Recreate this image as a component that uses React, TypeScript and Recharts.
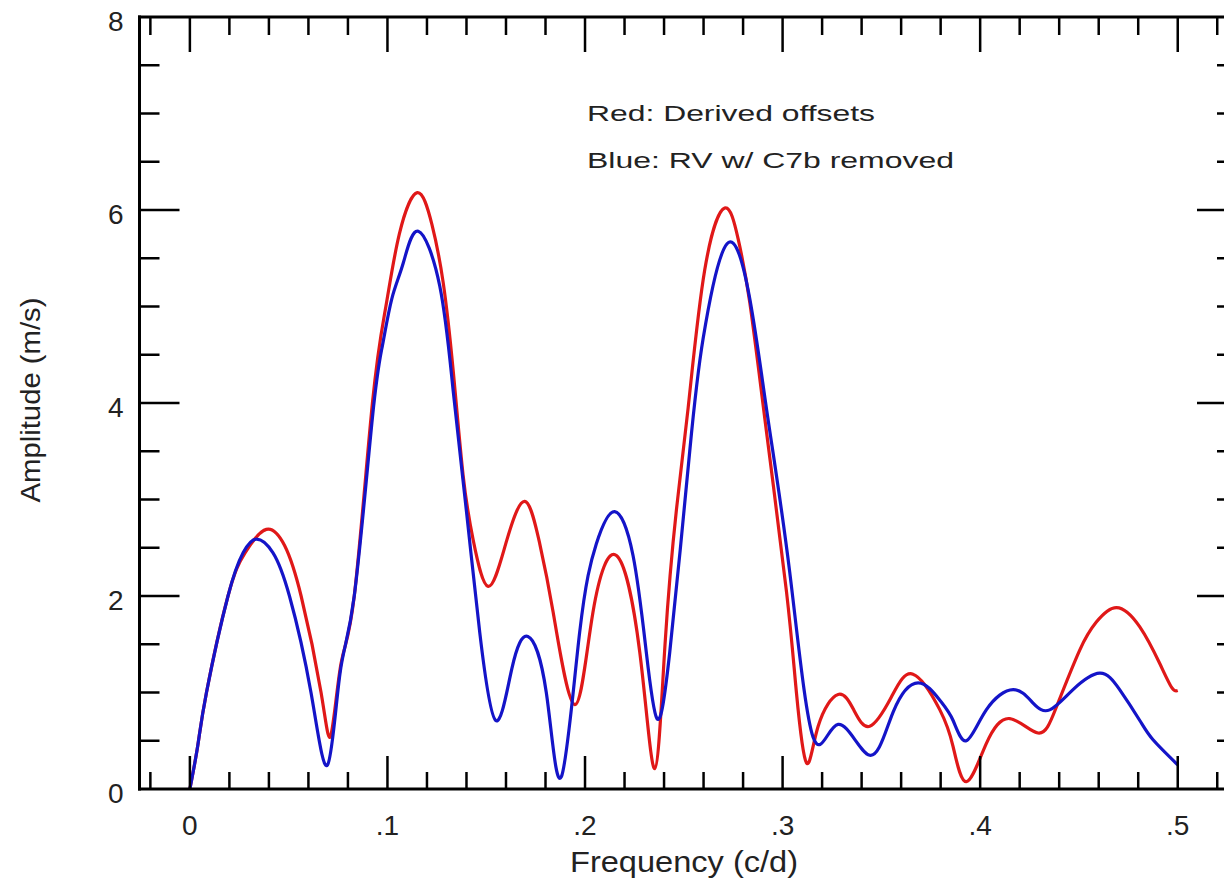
import { LineChart, Line, XAxis, YAxis } from 'recharts';

// frequency (c/d) and amplitude (m/s)
const redFreq = [0, 0.004, 0.0084, 0.0193, 0.028, 0.0387, 0.048, 0.0563, 0.0664, 0.0714, 0.0765, 0.0832, 0.0924, 0.0992, 0.106, 0.1151, 0.1225, 0.1282, 0.1333, 0.1383, 0.1434, 0.151, 0.16, 0.1695, 0.177, 0.1839, 0.1948, 0.204, 0.2159, 0.2277, 0.2353, 0.2405, 0.2463, 0.2522, 0.2606, 0.2707, 0.2775, 0.2834, 0.2918, 0.302, 0.307, 0.3121, 0.318, 0.3281, 0.336, 0.3441, 0.355, 0.366, 0.3796, 0.3863, 0.393, 0.4031, 0.415, 0.4293, 0.4386, 0.4504, 0.4588, 0.469, 0.4808, 0.4909, 0.497, 0.5];
const redAmp = [0, 0.45, 1.0, 2.0, 2.45, 2.69, 2.52, 2.0, 1.0, 0.56, 1.3, 2.0, 4.0, 5.0, 5.75, 6.18, 5.85, 5.25, 4.33, 3.25, 2.58, 2.1, 2.55, 2.98, 2.55, 1.83, 0.875, 1.83, 2.42, 1.42, 0.21, 1.5, 2.9, 3.95, 5.38, 6.02, 5.7, 5.04, 3.71, 2.04, 1.0, 0.27, 0.65, 0.98, 0.82, 0.65, 0.95, 1.19, 0.82, 0.44, 0.076, 0.47, 0.73, 0.58, 0.85, 1.44, 1.73, 1.88, 1.68, 1.3, 1.05, 1.02];

const blueFreq = [0, 0.004, 0.0084, 0.0193, 0.027, 0.0336, 0.042, 0.0504, 0.0613, 0.0697, 0.076, 0.0832, 0.0924, 0.0975, 0.1022, 0.108, 0.1156, 0.1265, 0.1333, 0.14, 0.1467, 0.1548, 0.163, 0.1711, 0.1804, 0.188, 0.1973, 0.2057, 0.215, 0.2243, 0.231, 0.2364, 0.2429, 0.253, 0.2598, 0.2719, 0.2834, 0.2925, 0.3036, 0.3154, 0.3281, 0.3441, 0.356, 0.3686, 0.3796, 0.3863, 0.393, 0.4031, 0.4167, 0.4268, 0.4352, 0.447, 0.4605, 0.4706, 0.4808, 0.4875, 0.5];
const blueAmp = [0, 0.45, 1.0, 2.0, 2.45, 2.59, 2.45, 2.0, 1.0, 0.25, 1.2, 2.0, 3.85, 4.6, 5.08, 5.45, 5.78, 5.21, 4.12, 2.875, 1.625, 0.71, 1.25, 1.58, 1.0, 0.125, 1.625, 2.54, 2.875, 2.42, 1.42, 0.73, 1.42, 3.5, 4.67, 5.65, 5.08, 3.85, 2.25, 0.54, 0.67, 0.35, 0.8, 1.1, 0.92, 0.71, 0.5, 0.82, 1.03, 0.89, 0.82, 1.03, 1.2, 1.03, 0.71, 0.51, 0.25];

const freqTicks = [-0.02, 0, 0.02, 0.04, 0.06, 0.08, 0.1, 0.12, 0.14, 0.16, 0.18, 0.2, 0.22, 0.24, 0.26, 0.28, 0.3, 0.32, 0.34, 0.36, 0.38, 0.4, 0.42, 0.44, 0.46, 0.48, 0.5, 0.52];
const ampTicks = [0.5, 1, 1.5, 2, 2.5, 3, 3.5, 4, 4.5, 5, 5.5, 6, 6.5, 7, 7.5];
const ampLabels = [0, 2, 4, 6, 8];

const redData = redFreq.map((f, i) => ({ f, a: redAmp[i] }));
const blueData = blueFreq.map((f, i) => ({ f, a: blueAmp[i] }));

const FONT = '"Liberation Sans", Arial, Helvetica, sans-serif';
const TXT = '#222';

const isMajorX = (v: number) => Math.abs(v * 10 - Math.round(v * 10)) < 1e-6;
const fmtX = (v: number) => (Math.abs(v) < 1e-9 ? '0' : '.' + Math.round(v * 10));

const BottomTick = ({ x, y, payload }: any) => {
  const major = isMajorX(payload.value);
  return (
    <g>
      <line x1={x} x2={x} y1={y} y2={y - (major ? 33 : 17)} stroke="#000" strokeWidth={2.5} />
      {major && (
        <text x={x} y={y + 46} textAnchor="middle" fontSize={28} fill={TXT} fontFamily={FONT}>
          {fmtX(payload.value)}
        </text>
      )}
    </g>
  );
};

const TopTick = ({ x, y, payload }: any) => {
  const major = isMajorX(payload.value);
  return <line x1={x} x2={x} y1={y} y2={y + (major ? 35 : 18)} stroke="#000" strokeWidth={2.5} />;
};

const LeftTick = ({ x, y, payload }: any) => {
  const v = payload.value;
  const major = ampLabels.includes(v);
  return (
    <g>
      {v > 0 && v < 8 && (
        <line x1={x} x2={x + (major ? 40 : 20)} y1={y} y2={y} stroke="#000" strokeWidth={2.5} />
      )}
      {major && (
        <text x={x - 16} y={y + 14} textAnchor="end" fontSize={28} fill={TXT} fontFamily={FONT}>
          {v}
        </text>
      )}
    </g>
  );
};

const RightTick = ({ x, y, payload }: any) => {
  const v = payload.value;
  const major = ampLabels.includes(v);
  if (v <= 0 || v >= 8) return <g />;
  return <line x1={x} x2={x - (major ? 40 : 20)} y1={y} y2={y} stroke="#000" strokeWidth={2.5} />;
};

const axisLine = { stroke: '#000', strokeWidth: 3, strokeLinecap: 'square' as const };
const allAmpTicks = [0, ...ampTicks, 8];

export default function App() {
  return (
    <div style={{ position: 'absolute', left: 0, top: 0, width: 1224, height: 886, overflow: 'hidden', background: '#fff' }}>
      <LineChart width={1270} height={886} margin={{ top: 16, right: 23, bottom: 0, left: 0 }}>
        <XAxis
          dataKey="f"
          type="number"
          domain={[-0.0255, 0.53]}
          ticks={freqTicks}
          interval={0}
          height={97}
          tickSize={0}
          tickMargin={0}
          tickLine={false}
          axisLine={axisLine}
          tick={<BottomTick />}
          allowDataOverflow
        />
        <XAxis
          xAxisId="top"
          orientation="top"
          dataKey="f"
          type="number"
          domain={[-0.0255, 0.53]}
          ticks={freqTicks}
          interval={0}
          height={1}
          tickSize={0}
          tickMargin={0}
          tickLine={false}
          axisLine={axisLine}
          tick={<TopTick />}
          allowDataOverflow
        />
        <YAxis
          type="number"
          domain={[0, 8]}
          ticks={allAmpTicks}
          interval={0}
          width={139.5}
          tickSize={0}
          tickMargin={0}
          tickLine={false}
          axisLine={axisLine}
          tick={<LeftTick />}
          allowDataOverflow
        />
        <YAxis
          yAxisId="right"
          orientation="right"
          type="number"
          domain={[0, 8]}
          ticks={allAmpTicks}
          interval={0}
          width={10}
          tickSize={0}
          tickMargin={0}
          tickLine={false}
          axisLine={axisLine}
          tick={<RightTick />}
          allowDataOverflow
        />
        <Line data={redData} dataKey="a" type="natural" stroke="#e01818" strokeWidth={3.2} dot={false} isAnimationActive={false} />
        <Line data={blueData} dataKey="a" type="natural" stroke="#1414c8" strokeWidth={3.2} dot={false} isAnimationActive={false} />
      </LineChart>
      <svg width={1224} height={886} style={{ position: 'absolute', left: 0, top: 0, pointerEvents: 'none' }}>
        <text x={587} y={121} fontSize={22} fill={TXT} fontFamily={FONT} textLength={288} lengthAdjust="spacingAndGlyphs">
          Red: Derived offsets
        </text>
        <text x={587} y={168} fontSize={22} fill={TXT} fontFamily={FONT} textLength={367} lengthAdjust="spacingAndGlyphs">
          Blue: RV w/ C7b removed
        </text>
        <text x={684} y={872} textAnchor="middle" fontSize={30} fill={TXT} fontFamily={FONT} textLength={228} lengthAdjust="spacingAndGlyphs">
          Frequency (c/d)
        </text>
        <text transform="translate(40,400) rotate(-90)" textAnchor="middle" fontSize={28} fill={TXT} fontFamily={FONT} textLength={205} lengthAdjust="spacingAndGlyphs">
          Amplitude (m/s)
        </text>
      </svg>
    </div>
  );
}
